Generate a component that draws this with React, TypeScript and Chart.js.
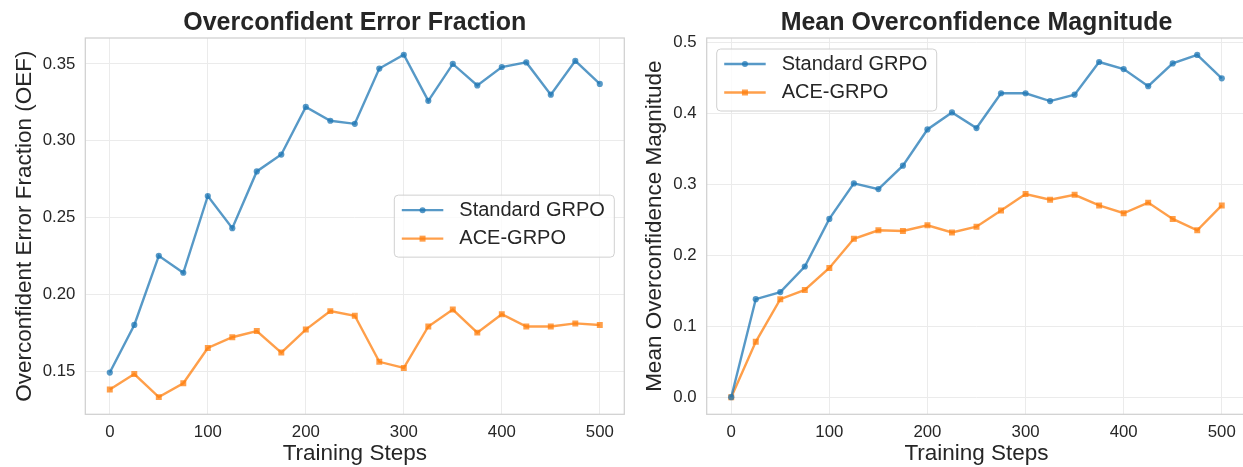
import React, { useEffect, useRef } from 'react';
import { Chart, registerables } from 'chart.js';

Chart.register(...registerables);

const steps = [0, 25, 50, 75, 100, 125, 150, 175, 200, 225, 250, 275, 300, 325, 350, 375, 400, 425, 450, 475, 500];

const oefStandard = [0.149, 0.180, 0.225, 0.214, 0.264, 0.243, 0.280, 0.291, 0.322, 0.313, 0.311, 0.347, 0.356, 0.326, 0.350, 0.336, 0.348, 0.351, 0.330, 0.352, 0.337];
const oefAce = [0.138, 0.148, 0.133, 0.142, 0.165, 0.172, 0.176, 0.162, 0.177, 0.189, 0.186, 0.156, 0.152, 0.179, 0.190, 0.175, 0.187, 0.179, 0.179, 0.181, 0.180];

const magStandard = [0.0, 0.138, 0.148, 0.184, 0.251, 0.301, 0.293, 0.326, 0.377, 0.401, 0.379, 0.428, 0.428, 0.417, 0.426, 0.472, 0.462, 0.438, 0.470, 0.482, 0.449];
const magAce = [0.0, 0.078, 0.138, 0.151, 0.182, 0.223, 0.235, 0.234, 0.242, 0.232, 0.240, 0.263, 0.286, 0.278, 0.285, 0.270, 0.259, 0.274, 0.251, 0.235, 0.270];

const xTicks = [0, 100, 200, 300, 400, 500];
const oefTicks = [0.15, 0.2, 0.25, 0.3, 0.35];
const magTicks = [0.0, 0.1, 0.2, 0.3, 0.4, 0.5];

const seriesNames = ['Standard GRPO', 'ACE-GRPO'];

const FONT = '"Liberation Sans", Arial, Helvetica, sans-serif';
const TEXT = '#262626';
const BLUE = 'rgba(31,119,180,0.75)';
const ORANGE = 'rgba(255,127,14,0.75)';

const framePlugin = {
  id: 'mplFrame',
  afterDatasetsDraw(chart: any) {
    const { ctx, chartArea } = chart;
    ctx.save();
    ctx.strokeStyle = '#d0d0d0';
    ctx.lineWidth = 1.25;
    ctx.strokeRect(chartArea.left, chartArea.top, chartArea.right - chartArea.left, chartArea.bottom - chartArea.top);
    ctx.restore();
  },
};

const legendPlugin = {
  id: 'mplLegend',
  afterDraw(chart: any, _args: any, opts: any) {
    const { ctx, chartArea } = chart;
    const w = 220;
    const h = 62;
    let x: number;
    let y: number;
    if (opts.loc === 'center right') {
      x = chartArea.right - 10 - w;
      y = (chartArea.top + chartArea.bottom) / 2 - h / 2;
    } else {
      x = chartArea.left + 10;
      y = chartArea.top + 11;
    }
    ctx.save();
    const r = 4;
    ctx.beginPath();
    ctx.moveTo(x + r, y);
    ctx.lineTo(x + w - r, y);
    ctx.arcTo(x + w, y, x + w, y + r, r);
    ctx.lineTo(x + w, y + h - r);
    ctx.arcTo(x + w, y + h, x + w - r, y + h, r);
    ctx.lineTo(x + r, y + h);
    ctx.arcTo(x, y + h, x, y + h - r, r);
    ctx.lineTo(x, y + r);
    ctx.arcTo(x, y, x + r, y, r);
    ctx.closePath();
    ctx.fillStyle = 'rgba(255,255,255,0.8)';
    ctx.fill();
    ctx.strokeStyle = '#d0d0d0';
    ctx.lineWidth = 1;
    ctx.stroke();

    chart.data.datasets.forEach((ds: any, i: number) => {
      const cy = y + 15 + i * 28.5;
      ctx.strokeStyle = ds.borderColor;
      ctx.lineWidth = 2.4;
      ctx.beginPath();
      ctx.moveTo(x + 7.5, cy);
      ctx.lineTo(x + 49, cy);
      ctx.stroke();
      const mx = x + 28.25;
      ctx.fillStyle = ds.borderColor;
      if (ds.pointStyle === 'rect') {
        ctx.fillRect(mx - 3, cy - 3, 6, 6);
      } else {
        ctx.beginPath();
        ctx.arc(mx, cy, 3, 0, Math.PI * 2);
        ctx.fill();
      }
      ctx.fillStyle = TEXT;
      ctx.font = `20px ${FONT}`;
      ctx.textBaseline = 'middle';
      ctx.textAlign = 'left';
      ctx.fillText(ds.label, x + 65, cy);
    });
    ctx.restore();
  },
};

function toPoints(vals: number[]) {
  return steps.map((s, i) => ({ x: s, y: vals[i] }));
}

function makeConfig(cfg: any) {
  return {
    type: 'line',
    data: {
      datasets: [
        {
          label: seriesNames[0],
          data: toPoints(cfg.a),
          borderColor: BLUE,
          backgroundColor: BLUE,
          borderWidth: 2.4,
          pointStyle: 'circle',
          pointRadius: 3.1,
          pointBorderWidth: 0,
          pointBackgroundColor: BLUE,
          tension: 0,
        },
        {
          label: seriesNames[1],
          data: toPoints(cfg.b),
          borderColor: ORANGE,
          backgroundColor: ORANGE,
          borderWidth: 2.4,
          pointStyle: 'rect',
          pointRadius: 4.2,
          pointBorderWidth: 0,
          pointBackgroundColor: ORANGE,
          tension: 0,
        },
      ],
    },
    plugins: [framePlugin, legendPlugin],
    options: {
      animation: false,
      responsive: false,
      maintainAspectRatio: false,
      devicePixelRatio: 1,
      layout: { padding: { left: 0, right: cfg.padRight, top: 0, bottom: 0 } },
      plugins: {
        legend: { display: false },
        tooltip: { enabled: false },
        title: {
          display: true,
          text: cfg.title,
          fullSize: false,
          color: TEXT,
          font: { family: FONT, size: 25, weight: 'bold', lineHeight: 1.2 },
          padding: { top: 8, bottom: 0 },
        },
        mplLegend: { loc: cfg.legendLoc },
      },
      scales: {
        x: {
          type: 'linear',
          min: -25,
          max: 525,
          afterBuildTicks: (s: any) => {
            s.ticks = xTicks.map((v) => ({ value: v }));
          },
          afterFit: (s: any) => {
            s.height = 52.7;
            s.paddingLeft = 0;
            s.paddingRight = 0;
          },
          ticks: {
            autoSkip: false,
            maxRotation: 0,
            color: TEXT,
            padding: 7.5,
            font: { family: FONT, size: 16.8 },
            callback: (v: any) => String(v),
          },
          grid: { color: '#ebebeb', lineWidth: 1, drawTicks: false },
          border: { display: false },
          title: {
            display: true,
            text: 'Training Steps',
            color: TEXT,
            font: { family: FONT, size: 22.5, lineHeight: 1.2 },
            padding: { top: 0, bottom: 0 },
          },
        },
        y: {
          type: 'linear',
          min: cfg.yMin,
          max: cfg.yMax,
          afterBuildTicks: (s: any) => {
            s.ticks = cfg.yTicks.map((v: number) => ({ value: v }));
          },
          afterFit: (s: any) => {
            s.width = cfg.yWidth;
            s.paddingTop = 0;
            s.paddingBottom = 0;
          },
          ticks: {
            autoSkip: false,
            color: TEXT,
            padding: 10,
            font: { family: FONT, size: 16.8 },
            callback: (v: any) => Number(v).toFixed(cfg.decimals),
          },
          grid: { color: '#ebebeb', lineWidth: 1, drawTicks: false },
          border: { display: false },
          title: {
            display: true,
            text: cfg.yTitle,
            color: TEXT,
            font: { family: FONT, size: 22.5, lineHeight: 1.2 },
            padding: { top: cfg.yTitlePad, bottom: 0 },
          },
        },
      },
    },
  };
}

export default function App() {
  const leftRef = useRef<HTMLCanvasElement>(null);
  const rightRef = useRef<HTMLCanvasElement>(null);

  useEffect(() => {
    const c1 = new Chart(leftRef.current as any, makeConfig({
      a: oefStandard,
      b: oefAce,
      title: 'Overconfident Error Fraction',
      yTitle: 'Overconfident Error Fraction (OEF)',
      yMin: 0.1218,
      yMax: 0.3669,
      yTicks: oefTicks,
      decimals: 2,
      yWidth: 85.3,
      yTitlePad: 11.5,
      padRight: 15.7,
      legendLoc: 'center right',
    }) as any);
    const c2 = new Chart(rightRef.current as any, makeConfig({
      a: magStandard,
      b: magAce,
      title: 'Mean Overconfidence Magnitude',
      yTitle: 'Mean Overconfidence Magnitude',
      yMin: -0.0241,
      yMax: 0.5058,
      yTicks: magTicks,
      decimals: 1,
      yWidth: 66.7,
      yTitlePad: 1.5,
      padRight: 13.7,
      legendLoc: 'upper left',
    }) as any);
    return () => {
      c1.destroy();
      c2.destroy();
    };
  }, []);

  return (
    <div style={{ position: 'fixed', left: 0, top: 0, width: 1243, height: 467, overflow: 'hidden', background: '#fff' }}>
      <canvas ref={leftRef} width={640} height={467} style={{ position: 'absolute', left: 0, top: 0, width: 640, height: 467 }} />
      <canvas ref={rightRef} width={620} height={467} style={{ position: 'absolute', left: 640, top: 0, width: 620, height: 467 }} />
    </div>
  );
}
